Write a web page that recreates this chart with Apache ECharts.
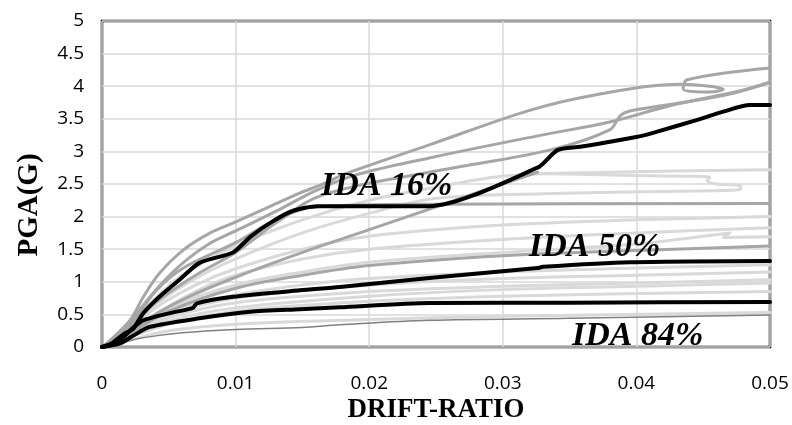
<!DOCTYPE html>
<html>
<head>
<meta charset="utf-8">
<script src="https://cdn.jsdelivr.net/npm/echarts@6/dist/echarts.min.js"></script>
<style>html,body{margin:0;padding:0;background:#fff}#c{width:792px;height:425px}</style>
</head>
<body>
<div id="c"></div>
<script>
// ---- data (drift ratio, PGA g) ----
const xTicks = [0, 0.01, 0.02, 0.03, 0.04, 0.05];
const yTicks = [0, 0.5, 1, 1.5, 2, 2.5, 3, 3.5, 4, 4.5, 5];

const ida16 = [[0,0],[0.00075,0.06],[0.0017,0.21],[0.0023,0.27],[0.0031,0.52],[0.0043,0.77],[0.0058,1.03],[0.0073,1.29],[0.0098,1.45],[0.0111,1.69],[0.0128,1.93],[0.0143,2.09],[0.0161,2.16],[0.0245,2.16],[0.0326,2.75],[0.0341,3.02],[0.0358,3.07],[0.040,3.22],[0.0415,3.30],[0.0445,3.48],[0.0465,3.61],[0.0485,3.71],[0.05,3.71]];
const ida50 = [[0,0],[0.001,0.06],[0.0017,0.17],[0.0023,0.29],[0.0031,0.41],[0.0051,0.52],[0.0068,0.60],[0.0071,0.67],[0.0098,0.77],[0.0148,0.87],[0.0178,0.92],[0.0245,1.06],[0.0326,1.21],[0.033,1.23],[0.0395,1.30],[0.05,1.32]];
const ida84 = [[0,0],[0.0013,0.05],[0.0023,0.17],[0.0036,0.31],[0.0073,0.44],[0.0111,0.54],[0.0148,0.58],[0.0178,0.61],[0.0245,0.675],[0.035,0.68],[0.05,0.69]];

const recA = [[0,0],[0.0006,0.1],[0.0021,0.41],[0.0031,0.77],[0.0043,1.13],[0.0061,1.49],[0.0081,1.75],[0.0098,1.9],[0.0123,2.13],[0.0148,2.36],[0.0168,2.52],[0.018,2.64],[0.0245,3.1],[0.032,3.63],[0.037,3.87],[0.0433,4.03],[0.0465,3.95],[0.0455,3.91],[0.0435,3.96],[0.0438,4.1],[0.05,4.28]];
const recB = [[0,0],[0.001,0.1],[0.002,0.33],[0.003,0.62],[0.0045,0.98],[0.006,1.28],[0.008,1.58],[0.01,1.78],[0.013,2.08],[0.016,2.4],[0.019,2.64],[0.0245,2.9],[0.0329,3.25],[0.038,3.45],[0.0425,3.7],[0.0478,3.93],[0.05,4.06]];
const recC = [[0,0],[0.002,0.28],[0.004,0.68],[0.007,1.1],[0.01,1.45],[0.013,1.9],[0.0165,2.33],[0.0253,2.71],[0.0335,3.02],[0.038,3.33],[0.0388,3.55],[0.0395,3.62],[0.0425,3.72],[0.047,3.88],[0.05,4.06]];
const recD = [[0,0],[0.002,0.3],[0.004,0.75],[0.006,1.1],[0.01,1.55],[0.015,1.95],[0.02,2.25],[0.025,2.45],[0.03,2.62],[0.038,2.68],[0.05,2.72]];
const recE = [[0,0],[0.002,0.26],[0.004,0.65],[0.007,1.05],[0.01,1.35],[0.015,1.75],[0.02,2.05],[0.025,2.28],[0.033,2.35],[0.04,2.38],[0.0478,2.42],[0.0478,2.47],[0.046,2.5],[0.0453,2.55],[0.0455,2.6],[0.04,2.63],[0.033,2.66]];
const recF = [[0,0],[0.002,0.3],[0.004,0.85],[0.006,1.2],[0.01,1.6],[0.013,1.95],[0.016,2.15],[0.025,2.19],[0.05,2.2]];
const recG = [[0,0],[0.002,0.25],[0.004,0.6],[0.007,0.95],[0.01,1.2],[0.015,1.5],[0.02,1.7],[0.03,1.87],[0.04,1.95],[0.05,2.0]];
const recH = [[0,0],[0.002,0.2],[0.004,0.5],[0.0066,0.78],[0.01,1.07],[0.015,1.45],[0.02,1.8],[0.0253,2.17],[0.03,2.5],[0.0326,2.68]];
const recI = [[0,0],[0.002,0.2],[0.004,0.5],[0.007,0.85],[0.01,1.1],[0.015,1.35],[0.02,1.5],[0.03,1.65],[0.04,1.75],[0.05,1.83]];
const recJ = [[0,0],[0.002,0.2],[0.005,0.6],[0.01,0.95],[0.015,1.15],[0.02,1.3],[0.03,1.45],[0.04,1.58],[0.045,1.7],[0.047,1.75],[0.0465,1.68],[0.05,1.69]];
const recK = [[0,0],[0.002,0.2],[0.005,0.55],[0.01,0.9],[0.015,1.1],[0.02,1.25],[0.03,1.4],[0.04,1.48],[0.05,1.55]];
const recL = [[0,0],[0.002,0.22],[0.005,0.55],[0.01,0.8],[0.015,0.95],[0.02,1.05],[0.03,1.15],[0.04,1.21],[0.05,1.26]];
const recM = [[0,0],[0.002,0.2],[0.005,0.5],[0.01,0.75],[0.02,0.95],[0.03,1.05],[0.04,1.1],[0.05,1.15]];
const recN = [[0,0],[0.002,0.18],[0.005,0.45],[0.01,0.68],[0.02,0.85],[0.03,0.93],[0.04,0.98],[0.05,1.03]];
const recO = [[0,0],[0.002,0.15],[0.005,0.4],[0.01,0.6],[0.02,0.78],[0.03,0.88],[0.04,0.93],[0.05,0.98]];
const recP = [[0,0],[0.002,0.15],[0.005,0.35],[0.01,0.55],[0.02,0.7],[0.03,0.78],[0.05,0.85]];
const recQ = [[0,0],[0.002,0.1],[0.005,0.25],[0.01,0.35],[0.02,0.42],[0.03,0.47],[0.05,0.53]];
const recR = [[0,0],[0.0012,0.05],[0.003,0.14],[0.006,0.22],[0.01,0.27],[0.015,0.3],[0.0178,0.34],[0.0245,0.41],[0.035,0.44],[0.05,0.49]];

const mediumRecords = [recA, recB, recC, recF, recH, recK];
const lightRecords = [recD, recE, recG, recI, recJ, recL, recM, recN, recO, recP, recQ];
const thinRecords = [recR];
const idaCurves = [ida16, ida50, ida84];
const idaLabels = ['IDA 16%', 'IDA 50%', 'IDA 84%'];

// ---- chart ----
const chart = echarts.init(document.getElementById('c'), null, {renderer: 'canvas'});
const series = [];
function addLine(data, color, width, z, smooth) {
  series.push({type: 'line', data: data, showSymbol: false, symbol: 'none', smooth: smooth,
    lineStyle: {color: color, width: width, cap: 'round', join: 'round'}, z: z, silent: true, animation: false, clip: true});
}
lightRecords.forEach(d => addLine(d, '#d9d9d9', 3, 2, 0.35));
mediumRecords.forEach(d => addLine(d, '#a6a6a6', 3, 3, 0.35));
thinRecords.forEach(d => addLine(d, '#808080', 1.5, 3, 0.35));
idaCurves.forEach(d => addLine(d, '#000000', 4, 5, 0.25));

const labelFont = {fontFamily: 'Liberation Serif', fontWeight: 'bold', fontStyle: 'italic', fontSize: 34, fill: '#000'};
chart.setOption({
  animation: false,
  grid: {left: 102, right: 22, top: 21, bottom: 78, show: true, borderColor: '#000', borderWidth: 2.5,
    backgroundColor: 'transparent', containLabel: false, outerBoundsMode: 'none'},
  xAxis: {type: 'value', min: xTicks[0], max: xTicks[xTicks.length-1], interval: 0.01,
    axisLine: {show: false}, axisTick: {show: false},
    splitLine: {show: true, lineStyle: {color: '#d9d9d9', width: 1.5}},
    axisLabel: {color: '#000', fontFamily: 'Open Sans', fontSize: 19, margin: 27,
      formatter: v => xTicks.find(t => Math.abs(t - v) < 1e-9) !== undefined ? String(+v.toFixed(2)) : ''}},
  yAxis: {type: 'value', min: yTicks[0], max: yTicks[yTicks.length-1], interval: 0.5,
    axisLine: {show: false}, axisTick: {show: false},
    splitLine: {show: true, lineStyle: {color: '#d9d9d9', width: 1.5}},
    axisLabel: {color: '#000', fontFamily: 'Open Sans', fontSize: 19, margin: 18,
      formatter: v => String(+v.toFixed(1))}},
  series: series,
  graphic: [
    {type: 'text', x: 30, y: 205, rotation: Math.PI / 2, z: 100,
      style: {text: 'PGA(G)', fontFamily: 'Liberation Serif', fontWeight: 'bold', fontSize: 29, fill: '#000', align: 'center', verticalAlign: 'middle'}},
    {type: 'text', x: 436, y: 410, z: 100,
      style: {text: 'DRIFT-RATIO', fontFamily: 'Liberation Serif', fontWeight: 'bold', fontSize: 27, fill: '#000', align: 'center', verticalAlign: 'middle'}},
    {type: 'text', left: 321, top: 169, z: 100, style: Object.assign({text: idaLabels[0]}, labelFont)},
    {type: 'text', left: 529, top: 230, z: 100, style: Object.assign({text: idaLabels[1]}, labelFont)},
    {type: 'text', left: 572, top: 319, z: 100, style: Object.assign({text: idaLabels[2]}, labelFont)}
  ]
});
</script>
</body>
</html>
